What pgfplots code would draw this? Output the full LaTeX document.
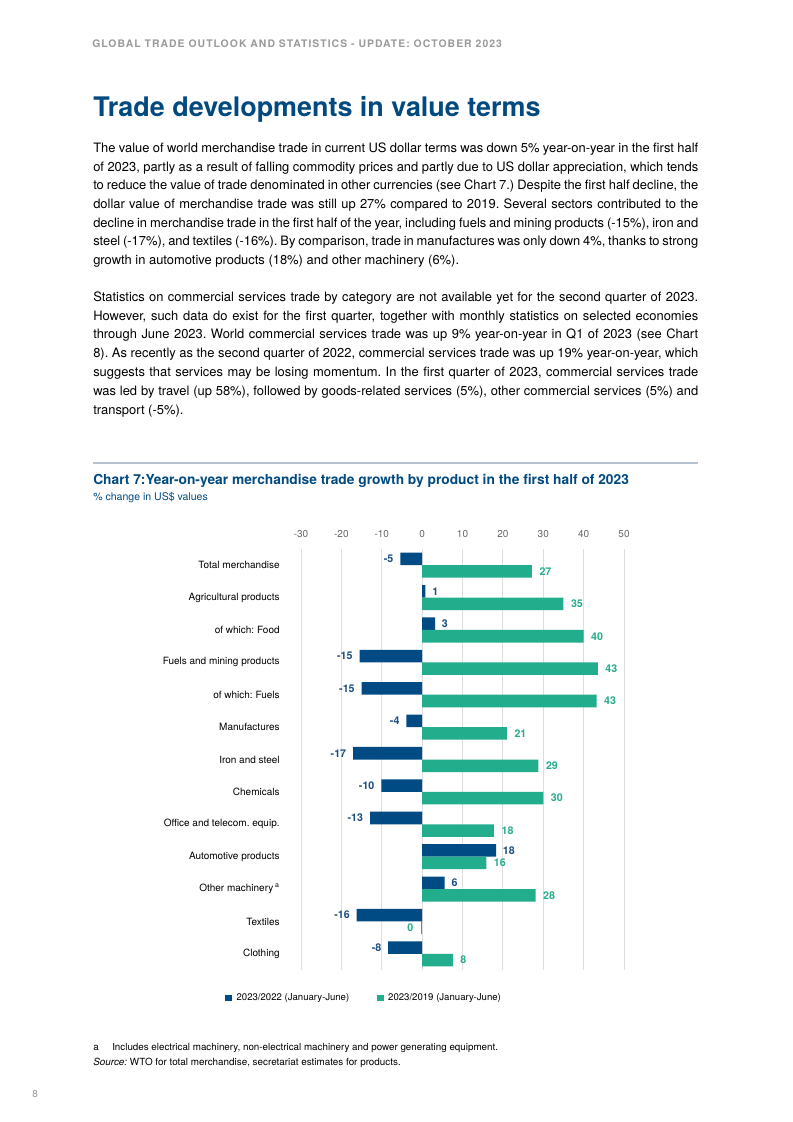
\documentclass[border=0pt]{standalone}
\usepackage{fontspec}
\setmainfont{TeX Gyre Heros}
\newfontfamily\hdr{TeX Gyre Heros}[LetterSpace=10]
\usepackage{pgfplots}
\pgfplotsset{compat=1.18}
\usepackage{pgfplotstable}
\definecolor{wtoblue}{HTML}{004A80}
\definecolor{darkbar}{HTML}{004B84}
\definecolor{greenbar}{HTML}{22AD8C}
\definecolor{darklab}{HTML}{1B4D7E}
\definecolor{greenlab}{HTML}{25AD8D}
\definecolor{rulecol}{HTML}{B5C3D1}
\definecolor{hdrgray}{HTML}{9A9A9A}
\newcommand\jl[1]{\makebox[453.75pt][s]{#1}\\}
\pgfplotstableread{
y v1 l1 v2 l2
12 -5.4 -5 27.2 27
11 0.8 1 35 35
10 3.2 3 40 40
9 -15.5 -15 43.5 43
8 -15 -15 43.2 43
7 -3.9 -4 21 21
6 -17.1 -17 28.8 29
5 -10.1 -10 30 30
4 -12.9 -13 17.8 18
3 18.3 18 15.9 16
2 5.6 6 28.1 28
1 -16.2 -16 -0.3 0
0 -8.4 -8 7.6 8
}\datatab
\pgfplotsset{
  darkstyle/.style={fill=darkbar, draw=none, bar shift=4.7pt,
    nodes near coords style={font=\bfseries\fontsize{8pt}{9pt}\selectfont, text=darklab, inner xsep=5pt, inner ysep=0pt}},
  greenstyle/.style={fill=greenbar, draw=none, bar shift=-4.7pt,
    nodes near coords style={font=\bfseries\fontsize{8pt}{9pt}\selectfont, text=greenlab, inner xsep=5.5pt, inner ysep=0pt}},
  posonly/.style={x filter/.expression={x<0 ? nan : x}, nodes near coords style={anchor=west}},
  negonly/.style={x filter/.expression={x<0 ? x : nan}, nodes near coords style={anchor=east}},
}
\begin{document}
\frenchspacing
\begin{tikzpicture}
\useasboundingbox[fill=white] (0pt,0pt) rectangle (594.75pt,-841.5pt);
% header
\node[anchor=base west, inner sep=0pt, text=hdrgray, font=\hdr\bfseries\fontsize{7.8pt}{9pt}\selectfont] at (69pt,-35.25pt) {GLOBAL TRADE OUTLOOK AND STATISTICS - UPDATE: OCTOBER 2023};
% title
\node[anchor=base west, inner sep=0pt, text=wtoblue, font=\bfseries\fontsize{20.2pt}{24pt}\selectfont] at (69.75pt,-87pt) {Trade developments in value terms};
% paragraph 1
\node[anchor=north west, inner sep=0pt, align=left, font=\fontsize{9.7pt}{13.95pt}\selectfont] at (69.75pt,-107pt) {%
\jl{The value of world merchandise trade in current US dollar terms was down 5\% year-on-year in the first half}
\jl{of 2023, partly as a result of falling commodity prices and partly due to US dollar appreciation, which tends}
\jl{to reduce the value of trade denominated in other currencies (see Chart 7.) Despite the first half decline, the}
\jl{dollar value of merchandise trade was still up 27\% compared to 2019. Several sectors contributed to the}
\jl{decline in merchandise trade in the first half of the year, including fuels and mining products (-15\%), iron and}
\jl{steel (-17\%), and textiles (-16\%). By comparison, trade in manufactures was only down 4\%, thanks to strong}
growth in automotive products (18\%) and other machinery (6\%).};
% paragraph 2
\node[anchor=north west, inner sep=0pt, align=left, font=\fontsize{9.7pt}{14.1pt}\selectfont] at (69.75pt,-218.5pt) {%
\jl{Statistics on commercial services trade by category are not available yet for the second quarter of 2023.}
\jl{However, such data do exist for the first quarter, together with monthly statistics on selected economies}
\jl{through June 2023. World commercial services trade was up 9\% year-on-year in Q1 of 2023 (see Chart}
\jl{8). As recently as the second quarter of 2022, commercial services trade was up 19\% year-on-year, which}
\jl{suggests that services may be losing momentum. In the first quarter of 2023, commercial services trade}
\jl{was led by travel (up 58\%), followed by goods-related services (5\%), other commercial services (5\%) and}
transport (-5\%).};
% rule
\draw[rulecol, line width=1.5pt] (69.75pt,-347.25pt) -- (523.5pt,-347.25pt);
% chart title
\node[anchor=base west, inner sep=0pt, text=wtoblue, font=\bfseries\fontsize{10.33pt}{12pt}\selectfont] at (69.75pt,-363pt) {Chart 7:Year-on-year merchandise trade growth by product in the first half of 2023};
\node[anchor=base west, inner sep=0pt, text=wtoblue, font=\fontsize{7.9pt}{9pt}\selectfont] at (69.75pt,-375pt) {\% change in US\$ values};
% chart
\begin{axis}[
  at={(225.75pt,-727.5pt)}, anchor=south west,
  scale only axis, width=242.25pt, height=315.75pt,
  xmin=-30, xmax=50, ymin=-0.5, ymax=12.5,
  axis line style={draw=none},
  major tick length=0pt,
  xtick={-30,-20,...,50},
  ytick={0,...,12},
  yticklabels={Clothing,Textiles,Other machinery\,\textsuperscript{a},Automotive products,Office and telecom. equip.,Chemicals,Iron and steel,Manufactures,of which: Fuels,Fuels and mining products,of which: Food,Agricultural products,Total merchandise},
  xticklabel pos=upper,
  xmajorgrids, ymajorgrids=false,
  grid style={draw=black!13, line width=0.75pt},
  xbar, bar width=9.4pt,
  /pgf/number format/assume math mode=true,
  tick label style={font=\fontsize{7.5pt}{9pt}\selectfont},
  x tick label style={text=black!60, yshift=5pt},
  y tick label style={xshift=-12.5pt},
  clip=false,
  point meta=explicit symbolic,
  nodes near coords,
  legend style={at={(-0.2353,-0.0665)}, anchor=west, draw=none, fill=none,
    inner sep=0pt, outer sep=0pt,
    legend columns=2, font=\fontsize{7.2pt}{9pt}\selectfont,
    nodes={inner xsep=1.5pt, inner ysep=1pt},
    /tikz/every odd column/.append style={column sep=2pt},
    /tikz/every even column/.append style={column sep=19pt}},
  legend cell align=left,
]
\addplot[darkstyle, posonly,
  legend image code/.code={\fill[darkbar] (0pt,-2.6pt) rectangle (5.2pt,2.6pt);}]
  table[x=v1, y=y, meta=l1] {\datatab};
\addlegendentry{2023/2022 (January-June)}
\addplot[greenstyle, posonly,
  legend image code/.code={\fill[greenbar] (0pt,-2.6pt) rectangle (5.2pt,2.6pt);}]
  table[x=v2, y=y, meta=l2] {\datatab};
\addlegendentry{2023/2019 (January-June)}
\addplot[darkstyle, negonly, forget plot] table[x=v1, y=y, meta=l1] {\datatab};
\addplot[greenstyle, negonly, forget plot] table[x=v2, y=y, meta=l2] {\datatab};
\end{axis}
% footnotes
\node[anchor=base west, inner sep=0pt, font=\fontsize{7.35pt}{9pt}\selectfont] at (69.75pt,-787.5pt) {a};
\node[anchor=base west, inner sep=0pt, font=\fontsize{7.35pt}{9pt}\selectfont] at (84pt,-787.5pt) {Includes electrical machinery, non-electrical machinery and power generating equipment.};
\node[anchor=base west, inner sep=0pt, font=\fontsize{7.4pt}{9pt}\selectfont] at (69.75pt,-798.75pt) {\textit{Source:} WTO for total merchandise, secretariat estimates for products.};
% page number
\node[anchor=base west, inner sep=0pt, text=hdrgray, font=\fontsize{7.5pt}{9pt}\selectfont] at (24pt,-822.75pt) {8};
\end{tikzpicture}
\end{document}
